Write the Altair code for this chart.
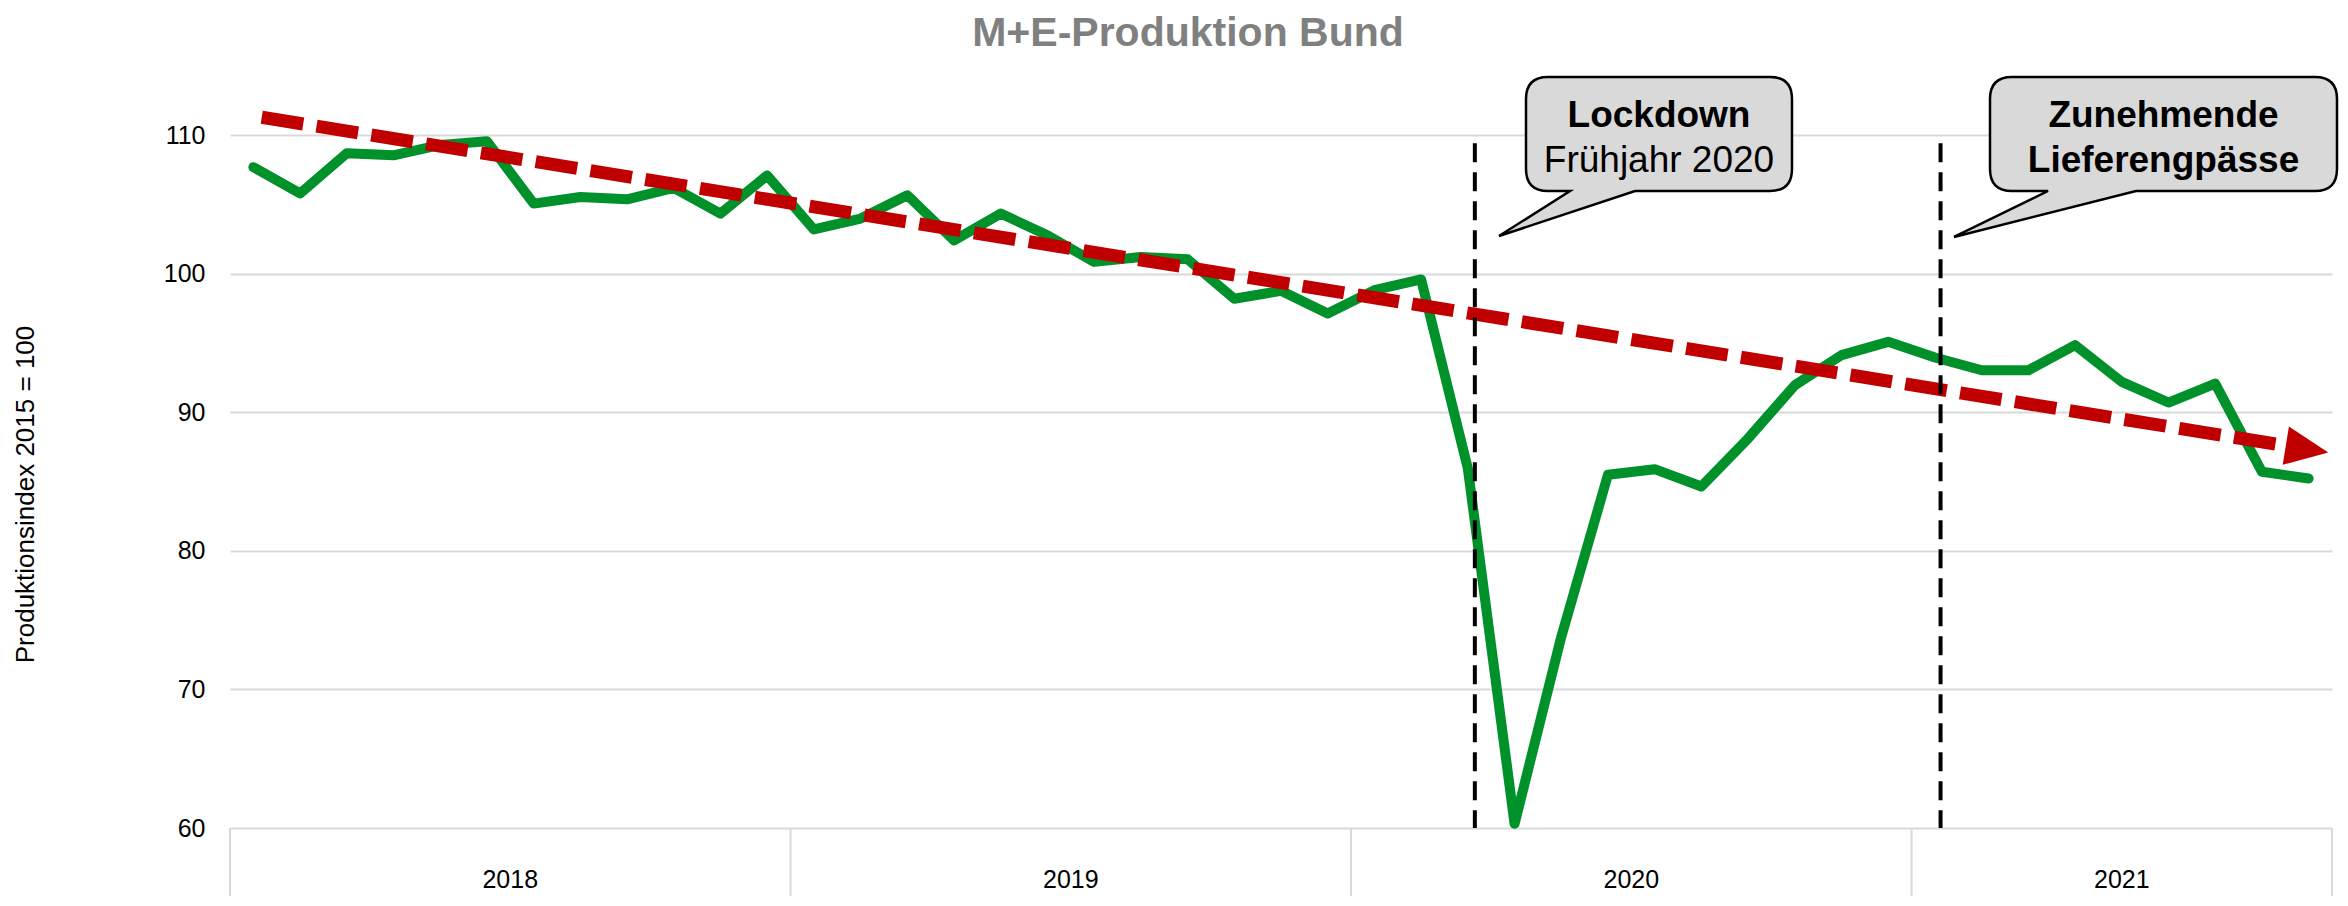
import math
import altair as alt
import pandas as pd

# ---------------- data ----------------
values = [107.7, 105.8, 108.7, 108.55, 109.3, 109.57, 105.07, 105.55, 105.38, 106.2, 104.35, 107.1,
          103.2, 103.99, 105.67, 102.42, 104.35, 102.78, 100.86, 101.22, 101.05, 98.2, 98.77, 97.13,
          98.82, 99.59, 85.95, 60.3, 73.8, 85.5, 85.9, 84.65, 88.12, 91.96, 94.13, 95.09,
          93.96, 93.04, 93.04, 94.85, 92.2, 90.71, 92.08, 85.71, 85.23]
year_labels = ["2018", "2019", "2020", "2021"]
year_months = [12, 12, 12, 9]
y_ticks = [60, 70, 80, 90, 100, 110]
trend_start = [0.68, 111.3]
trend_end = [44.92, 87.1]
event_x = [26.65, 36.62]
event_top = 109.42
title_text = "M+E-Produktion Bund"
y_title = "Produktionsindex 2015 = 100"
bubble1_lines = ["Lockdown", "Frühjahr 2020"]
bubble2_lines = ["Zunehmende", "Lieferengpässe"]

# ---------------- layout ----------------
FONT = "Liberation Sans, Arial, sans-serif"
W, H = 2102, 762
PAD_L, PAD_T, PAD_R, PAD_B = 222, 58, 8, 68
OX, OY = 8 + PAD_L, 8 + PAD_T  # page position of the plot origin
XDOM = [0, sum(year_months)]
YDOM = [60, 115]
GREEN = "#00912A"
RED = "#C00000"
GRID = "#D9D9D9"

xs = alt.Scale(domain=XDOM, nice=False, zero=False)
ys = alt.Scale(domain=YDOM, nice=False, zero=False)
px_per_x = W / (XDOM[1] - XDOM[0])
px_per_y = H / (YDOM[1] - YDOM[0])

df = pd.DataFrame({"x": [i + 0.5 for i in range(len(values))], "v": values})

line = alt.Chart(df).mark_line(color=GREEN, strokeWidth=10, strokeCap="round",
                               strokeJoin="round").encode(
    x=alt.X("x:Q", scale=xs, axis=None),
    y=alt.Y("v:Q", scale=ys, axis=alt.Axis(
        values=y_ticks, grid=True, gridColor=GRID, gridWidth=2, domain=False,
        ticks=False, tickSize=0, labelFontSize=25, labelFont=FONT, labelColor="black",
        labelPadding=25, title=y_title, titleFontSize=26, titleFont=FONT,
        titleFontWeight="normal", titleColor="black", titleAngle=-90,
        titleX=33 - OX, titleY=494 - OY, titleAlign="center", titleBaseline="alphabetic")),
)

# trend line with arrow head
slope = (trend_end[1] - trend_start[1]) / (trend_end[0] - trend_start[0])
ang = math.degrees(math.atan(-slope * px_per_y / px_per_x))
head_len = 43.0
head_dx = head_len * math.cos(math.radians(ang)) / px_per_x
base_x = trend_end[0] - head_dx
mid_x = trend_end[0] - head_dx / 2
tdf = pd.DataFrame({"x": [trend_start[0], base_x],
                    "v": [trend_start[1], trend_start[1] + slope * (base_x - trend_start[0])]})
trend = alt.Chart(tdf).mark_line(color=RED, strokeWidth=13, strokeDash=[42, 13.5],
                                 strokeCap="butt").encode(
    x=alt.X("x:Q", scale=xs, axis=None), y=alt.Y("v:Q", scale=ys))
hdf = pd.DataFrame({"x": [mid_x], "v": [trend_start[1] + slope * (mid_x - trend_start[0])]})
head = alt.Chart(hdf).mark_point(shape="M -1 -0.9 L 1 0 L -1 0.9 Z", size=head_len ** 2,
                                 angle=ang, filled=True, fill=RED, strokeWidth=0,
                                 opacity=1, fillOpacity=1).encode(
    x=alt.X("x:Q", scale=xs, axis=None), y=alt.Y("v:Q", scale=ys))

# event lines
edf = pd.DataFrame({"x": event_x, "top": [event_top] * len(event_x), "bot": [YDOM[0]] * len(event_x)})
events = alt.Chart(edf).mark_rule(color="black", strokeWidth=4, strokeDash=[19, 10]).encode(
    x=alt.X("x:Q", scale=xs, axis=None), y=alt.Y("top:Q", scale=ys), y2="bot:Q")

# year separators and labels
bounds = [0]
for m in year_months:
    bounds.append(bounds[-1] + m)
sdf = pd.DataFrame({"x": bounds})
seps = alt.Chart(sdf).mark_rule(color=GRID, strokeWidth=2).encode(
    x=alt.X("x:Q", scale=xs, axis=None), y=alt.value(H), y2=alt.value(H + 90))
ydf = pd.DataFrame({"x": [(bounds[i] + bounds[i + 1]) / 2 for i in range(len(year_labels))],
                    "t": year_labels})
ylabels = alt.Chart(ydf).mark_text(font=FONT, fontSize=25, color="black", baseline="alphabetic",
                                   align="center").encode(
    x=alt.X("x:Q", scale=xs, axis=None), y=alt.value(888 - OY), text="t:N")

# title
title = alt.Chart(pd.DataFrame({"t": [title_text]})).mark_text(
    font=FONT, fontSize=41, fontWeight="bold", color="#808080", align="center",
    baseline="alphabetic").encode(x=alt.value(1188 - OX), y=alt.value(46 - OY), text="t:N")


# speech bubbles
def bubble_path(x0, y0, x1, y1, r, bx0, bx1, tx, ty):
    xa = [x0, x1, tx]
    ya = [y0, y1, ty]
    cx = (min(xa) + max(xa)) / 2
    cy = (min(ya) + max(ya)) / 2
    L = max(max(xa) - min(xa), max(ya) - min(ya)) + 4
    h = L / 2

    def p(x, y):
        return f"{(x - cx) / h:.4f} {(y - cy) / h:.4f}"

    d = (f"M {p(x0 + r, y0)} L {p(x1 - r, y0)} Q {p(x1, y0)} {p(x1, y0 + r)} "
         f"L {p(x1, y1 - r)} Q {p(x1, y1)} {p(x1 - r, y1)} L {p(bx1, y1)} L {p(tx, ty)} "
         f"L {p(bx0, y1)} L {p(x0 + r, y1)} Q {p(x0, y1)} {p(x0, y1 - r)} "
         f"L {p(x0, y0 + r)} Q {p(x0, y0)} {p(x0 + r, y0)} Z")
    return d, cx, cy, L


layers = [line, trend, head, events, seps, ylabels, title]
bubbles = [
    ((1526, 77, 1792, 191, 22, 1570, 1635, 1499, 236), bubble1_lines, ["bold", "normal"]),
    ((1990, 77, 2337, 191, 22, 2048, 2136, 1954, 237), bubble2_lines, ["bold", "bold"]),
]
for geo, lines_, weights in bubbles:
    d, cx, cy, L = bubble_path(*geo)
    b = alt.Chart(pd.DataFrame({"k": [0]})).mark_point(
        shape=d, size=L ** 2, filled=True, fill="#D9D9D9", stroke="black", strokeWidth=2.5,
        opacity=1, fillOpacity=1, strokeOpacity=1).encode(
        x=alt.value(cx - OX), y=alt.value(cy - OY))
    layers.append(b)
    tcx = (geo[0] + geo[2]) / 2
    for j, (txt, wgt) in enumerate(zip(lines_, weights)):
        t = alt.Chart(pd.DataFrame({"t": [txt]})).mark_text(
            font=FONT, fontSize=37, fontWeight=wgt, color="black", align="center",
            baseline="alphabetic").encode(
            x=alt.value(tcx - OX), y=alt.value([126.7, 171.7][j] - OY), text="t:N")
        layers.append(t)

chart = alt.layer(*layers).properties(
    width=W, height=H,
    autosize=alt.AutoSizeParams(type="none"),
    padding={"left": PAD_L, "top": PAD_T, "right": PAD_R, "bottom": PAD_B},
).configure_view(stroke=None)

chart.save("out.html", embed_options={"renderer": "svg", "actions": False})
